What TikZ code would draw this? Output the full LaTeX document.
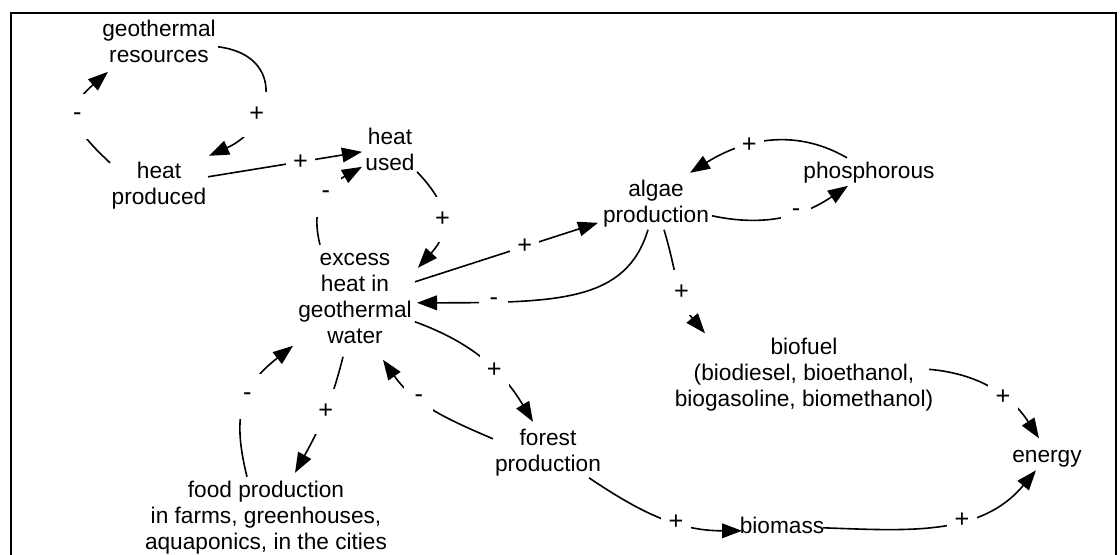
\documentclass[tikz,border=0pt]{standalone}
\usepackage{fontspec}
\setmainfont{Liberation Sans}
\usetikzlibrary{arrows.meta}

\begin{document}
\begin{tikzpicture}[x=0.75pt,y=0.75pt,
  var/.style={align=center, inner sep=0pt,
    font=\fontsize{17}{19.5}\selectfont,
    execute at begin node=\strut, execute at end node=\strut},
  link/.style={line width=1.2pt, -{Triangle[length=15pt,width=11pt]}},
  sign/.style={fill=white, inner sep=0pt, minimum width=22pt,
    minimum height=34pt, font=\fontsize{19}{21}\selectfont},
  frame/.style={line width=1pt}
]
\useasboundingbox (0,0) rectangle (1120,-554);

% open frame (bottom edge falls outside the page)
\draw[frame] (11,-560) -- (11,-13) -- (1116,-13) -- (1116,-560);

% variables
\node[var] (res)     at (159,-44.8)  {geothermal\\resources};
\node[var] (hp)      at (159,-186.8) {heat\\produced};
\node[var] (hu)      at (390,-152.8) {heat\\used};
\node[var] (exc)     at (355,-301.8) {excess\\heat in\\geothermal\\water};
\node[var] (alg)     at (656,-204.8) {algae\\production};
\node[var] (phos)    at (869,-172.8) {phosphorous};
\node[var] (forest)  at (548,-453.8) {forest\\production};
\node[var] (food)    at (266,-518.8) {food production\\in farms, greenhouses,\\aquaponics, in the cities};
\node[var] (bio)     at (804,-376.3) {biofuel\\(biodiesel, bioethanol,\\biogasoline, biomethanol)};
\node[var] (energy)  at (1047,-457.3) {energy};
\node[var] (biomass) at (782,-527.8) {biomass};

% causal links
\draw[link] ([shift={(59,-2)}]res.center) to[out=-7,in=24,looseness=1.65]
  node[sign,pos=0.65]{+} ([shift={(50,31)}]hp.center);
\draw[link] ([shift={(-49,24)}]hp.center) to[out=137,in=-139,looseness=1.6]
  node[sign,pos=0.5]{-} ([shift={(-51,-27)}]res.center);
\draw[link] ([shift={(49,10)}]hp.center) --
  node[sign,pos=0.6]{+} ([shift={(-28,1)}]hu.center);
\draw[link] ([shift={(-35,57)}]exc.center) to[out=104,in=209,looseness=1.2]
  node[sign,pos=0.55]{-} ([shift={(-28,-14)}]hu.center);
\draw[link] ([shift={(27,-19)}]hu.center) to[out=-46,in=48,looseness=1.3]
  node[sign,pos=0.5]{+} ([shift={(63,34)}]exc.center);
\draw[link] ([shift={(60,20)}]exc.center) --
  node[sign,pos=0.6]{+} ([shift={(-58,-18)}]alg.center);
\draw[link] ([shift={(-8,-25)}]alg.center)
  to[out=253,in=0,out looseness=0.79,in looseness=1.51]
  node[sign,pos=0.8]{-} ([shift={(62,-1)}]exc.center);
\draw[link] ([shift={(56,-11)}]alg.center) to[out=-12,in=214]
  node[sign,pos=0.6]{-} ([shift={(-21,-13)}]phos.center);
\draw[link] ([shift={(-22,15)}]phos.center) to[out=150,in=32]
  node[sign,pos=0.62]{+} ([shift={(34,32)}]alg.center);
\draw[link] ([shift={(8,-25)}]alg.center) to[out=-73,in=130]
  node[sign,pos=0.58]{+} ([shift={(-99,43)}]bio.center);
\draw[link] ([shift={(60,-20)}]exc.center) to[out=-20,in=121]
  node[sign,pos=0.6]{+} ([shift={(-15,32)}]forest.center);
\draw[link] ([shift={(-55,15)}]forest.center) to[out=157,in=-55]
  node[sign,pos=0.62]{-} ([shift={(28,-58)}]exc.center);
\draw[link] ([shift={(-12,-55)}]exc.center) to[out=256,in=61]
  node[sign,pos=0.45]{+} ([shift={(29,46)}]food.center);
\draw[link] ([shift={(-19,42)}]food.center) to[out=104,in=218,looseness=1.2]
  node[sign,pos=0.55]{-} ([shift={(-62,-44)}]exc.center);
\draw[link] ([shift={(125,7)}]bio.center) to[out=-5,in=123]
  node[sign,pos=0.6]{+} ([shift={(-8,19)}]energy.center);
\draw[link] ([shift={(41,-24)}]forest.center) to[out=-34,in=180]
  node[sign,pos=0.6]{+} ([shift={(-40,-3)}]biomass.center);
\draw[link] ([shift={(41,0)}]biomass.center) to[out=-2,in=230]
  node[sign,pos=0.6]{+} ([shift={(-11,-13)}]energy.center);
\end{tikzpicture}
\end{document}
